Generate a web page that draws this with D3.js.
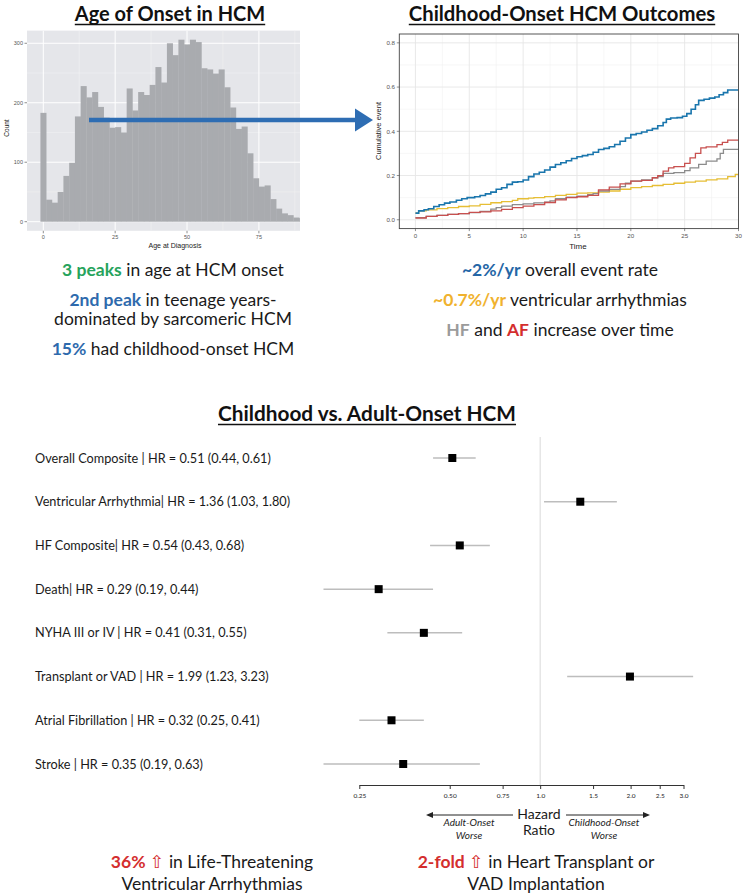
<!DOCTYPE html>
<html><head><meta charset="utf-8">
<script src="https://cdn.jsdelivr.net/npm/d3@7"></script>
<style>body{margin:0;background:#fff} svg{display:block}</style>
</head><body>
<svg id="c" width="748" height="895"></svg>
<script>
// ---------- DATA ----------
const ageBins = [0,2,4,6,8,10,12,14,16,18,20,22,24,26,28,30,32,34,36,38,40,42,44,46,48,50,52,54,56,58,60,62,64,66,68,70,72,74,76,78,80,82,84,86,88,90];
const ageCounts = [183,37,32,50,77,99,177,228,209,218,193,175,158,159,150,224,187,218,213,230,260,234,300,280,306,298,306,302,258,256,249,256,226,192,156,160,115,73,59,61,38,22,14,11,7,6];
const histYTicks = [0,100,200,300];
const histXTicks = [0,25,50,75];

const kmXTicks = [0,5,10,15,20,25,30];
const kmYTicks = [0,0.2,0.4,0.6,0.8];
const overallT = [0,0.3,0.8,1.2,1.7,2.2,2.7,3.2,3.8,4.3,4.8,5.5,6,6.5,7,7.5,8,8.5,9,9.5,10,10.5,11,11.5,12,12.5,13,13.5,14,14.5,15,15.5,16,16.5,17,17.5,18,18.5,19,19.5,20,20.5,21,21.5,22,22.5,23,23.3,23.7,24.3,24.8,25.2,25.6,26,26.3,26.8,27.3,27.8,28.2,28.6,29,30];
const overallV = [0.03,0.04,0.045,0.05,0.06,0.068,0.075,0.08,0.088,0.095,0.1,0.104,0.11,0.117,0.125,0.138,0.145,0.16,0.17,0.172,0.18,0.195,0.207,0.215,0.225,0.238,0.25,0.258,0.267,0.277,0.285,0.29,0.295,0.305,0.318,0.323,0.33,0.34,0.355,0.37,0.385,0.39,0.397,0.405,0.412,0.425,0.44,0.455,0.46,0.462,0.468,0.48,0.5,0.52,0.54,0.545,0.55,0.555,0.565,0.575,0.587,0.587];
const vaT = [0,0.3,1,2,3,4,5,6,7,8,9,9.5,10.5,11,12,13,14,15,16,17,18,19,20,21,22,23,24,25,26,27,28,29,29.7,30];
const vaV = [0.03,0.04,0.045,0.05,0.055,0.06,0.063,0.07,0.077,0.082,0.088,0.095,0.098,0.1,0.105,0.11,0.115,0.12,0.122,0.125,0.13,0.138,0.145,0.15,0.155,0.16,0.165,0.17,0.175,0.18,0.185,0.195,0.205,0.205];
const hfT = [0,1,2,3,4,5,6,7,7.5,8,9,10,11,12,12.5,13,14,15,16,16.5,17,18,19,19.5,20,21,22,22.5,23,24,25,25.5,26.3,27,28,28.3,28.6,30];
const hfV = [0.01,0.015,0.02,0.024,0.028,0.032,0.038,0.048,0.055,0.062,0.068,0.072,0.076,0.08,0.085,0.095,0.102,0.107,0.113,0.118,0.13,0.137,0.15,0.165,0.175,0.18,0.19,0.195,0.21,0.213,0.222,0.235,0.25,0.265,0.275,0.3,0.318,0.318];
const afT = [0,1,2,3,4,5,6,7,8,9,10,11,12,13,14,15,16,17,18,19,20,21,22,22.5,23,23.5,24,25,25.5,26,26.5,27,28,28.5,29,30];
const afV = [0.008,0.015,0.02,0.024,0.028,0.033,0.036,0.04,0.047,0.055,0.062,0.068,0.078,0.09,0.1,0.104,0.11,0.135,0.148,0.162,0.175,0.178,0.19,0.2,0.22,0.235,0.24,0.255,0.28,0.3,0.325,0.33,0.34,0.35,0.36,0.36];

const outcomes = ["Overall Composite | HR = 0.51 (0.44, 0.61)","Ventricular Arrhythmia| HR = 1.36 (1.03, 1.80)","HF Composite| HR = 0.54 (0.43, 0.68)","Death| HR = 0.29 (0.19, 0.44)","NYHA III or IV | HR = 0.41 (0.31, 0.55)","Transplant or VAD | HR = 1.99 (1.23, 3.23)","Atrial Fibrillation | HR = 0.32 (0.25, 0.41)","Stroke | HR = 0.35 (0.19, 0.63)"];
const hr = [0.51,1.36,0.54,0.29,0.41,1.99,0.32,0.35];
const hrLo = [0.44,1.03,0.43,0.19,0.31,1.23,0.25,0.19];
const hrHi = [0.61,1.80,0.68,0.44,0.55,3.23,0.41,0.63];
const hrTicks = [0.25,0.5,0.75,1,1.5,2,2.5,3];
const hrTickLabels = ["0.25","0.50","0.75","1.0","1.5","2.0","2.5","3.0"];

// ---------- DRAW ----------
const svg = d3.select('#c');
const FONT = 'Lato, "Open Sans", sans-serif';
const AX = '"Liberation Sans", Arial, sans-serif';
const TXT = '#1a1a1a';

function title(x, y, txt, size){
  const t = svg.append('text').attr('x',x).attr('y',y).attr('text-anchor','middle')
    .attr('font-family',FONT).attr('font-weight',700).attr('font-size',size||20).attr('fill','#111').text(txt);
  const w = t.node().getComputedTextLength();
  svg.append('line').attr('x1',x-w/2).attr('x2',x+w/2).attr('y1',y+3.5).attr('y2',y+3.5)
    .attr('stroke','#111').attr('stroke-width',1.6);
}
title(170, 21, 'Age of Onset in HCM');
title(562, 21, 'Childhood-Onset HCM Outcomes', 20.3);
title(367, 421, 'Childhood vs. Adult-Onset HCM', 20.8);

// ----- Histogram -----
const hx = d3.scaleLinear().domain([-5.67, 89.3]).range([27, 300]);
const hy = d3.scaleLinear().domain([-15.3, 321.3]).range([230.8, 30.6]);
const hg = svg.append('g');
hg.append('clipPath').attr('id','hclip').append('rect').attr('x',27).attr('y',30.6).attr('width',273).attr('height',200.2);
hg.append('rect').attr('x',27).attr('y',30.6).attr('width',273).attr('height',200.2).attr('fill','#e5e6ea');
const hgc = hg.append('g').attr('clip-path','url(#hclip)');
[50,150,250].forEach(v=>hgc.append('line').attr('x1',27).attr('x2',300).attr('y1',hy(v)).attr('y2',hy(v)).attr('stroke','#f3f3f5').attr('stroke-width',0.5));
[12.5,37.5,62.5,87.5].forEach(v=>hgc.append('line').attr('x1',hx(v)).attr('x2',hx(v)).attr('y1',30.6).attr('y2',230.8).attr('stroke','#f3f3f5').attr('stroke-width',0.5));
histYTicks.forEach(v=>hgc.append('line').attr('x1',27).attr('x2',300).attr('y1',hy(v)).attr('y2',hy(v)).attr('stroke','#fff').attr('stroke-width',1));
histXTicks.forEach(v=>hgc.append('line').attr('x1',hx(v)).attr('x2',hx(v)).attr('y1',30.6).attr('y2',230.8).attr('stroke','#fff').attr('stroke-width',1));
hgc.selectAll('rect.bar').data(ageBins).enter().append('rect').attr('class','bar')
  .attr('x',d=>hx(d-1)).attr('width',d=>hx(d+1)-hx(d-1)+0.3)
  .attr('y',(d,i)=>hy(ageCounts[i])).attr('height',(d,i)=>hy(0)-hy(ageCounts[i]))
  .attr('fill','#a9abaf');
histYTicks.forEach(v=>{
  hg.append('line').attr('x1',24.5).attr('x2',27).attr('y1',hy(v)).attr('y2',hy(v)).attr('stroke','#444').attr('stroke-width',0.6);
  hg.append('text').attr('x',23).attr('y',hy(v)+2).attr('text-anchor','end').attr('font-family',AX).attr('font-size',5.5).attr('fill','#555').text(v);
});
histXTicks.forEach(v=>{
  hg.append('line').attr('x1',hx(v)).attr('x2',hx(v)).attr('y1',230.8).attr('y2',233.3).attr('stroke','#444').attr('stroke-width',0.6);
  hg.append('text').attr('x',hx(v)).attr('y',239).attr('text-anchor','middle').attr('font-family',AX).attr('font-size',5.5).attr('fill','#555').text(v);
});
hg.append('text').attr('transform','translate(9,128) rotate(-90)').attr('text-anchor','middle').attr('font-family',AX).attr('font-size',6.5).attr('fill','#222').text('Count');
hg.append('text').attr('x',175).attr('y',248).attr('text-anchor','middle').attr('font-family',AX).attr('font-size',7).attr('fill','#222').text('Age at Diagnosis');

// ----- KM chart -----
const kx = d3.scaleLinear().domain([-1.5, 30]).range([399.3, 738.5]);
const ky = d3.scaleLinear().domain([-0.04, 0.84]).range([228.6, 34]);
const kg = svg.append('g');
kg.append('rect').attr('x',399.3).attr('y',34).attr('width',739.2-399.3).attr('height',228.6-34).attr('fill','#fff');
[2.5,7.5,12.5,17.5,22.5,27.5].forEach(v=>kg.append('line').attr('x1',kx(v)).attr('x2',kx(v)).attr('y1',34).attr('y2',228.6).attr('stroke','#f1f1f1').attr('stroke-width',0.6));
[0.1,0.3,0.5,0.7].forEach(v=>kg.append('line').attr('x1',399.3).attr('x2',738.5).attr('y1',ky(v)).attr('y2',ky(v)).attr('stroke','#f1f1f1').attr('stroke-width',0.6));
kmXTicks.forEach(v=>kg.append('line').attr('x1',kx(v)).attr('x2',kx(v)).attr('y1',34).attr('y2',228.6).attr('stroke','#e6e6e6').attr('stroke-width',0.9));
kmYTicks.forEach(v=>kg.append('line').attr('x1',399.3).attr('x2',738.5).attr('y1',ky(v)).attr('y2',ky(v)).attr('stroke','#e6e6e6').attr('stroke-width',0.9));
const kline = d3.line().x(d=>kx(d[0])).y(d=>ky(d[1])).curve(d3.curveStepAfter);
const series = [
  {t:vaT, v:vaV, c:'#e6be35', w:1.3},
  {t:hfT, v:hfV, c:'#8c8c8c', w:1.3},
  {t:afT, v:afV, c:'#c8504f', w:1.3},
  {t:overallT, v:overallV, c:'#1a76ad', w:1.6}
];
series.forEach(s=>{
  kg.append('path').attr('d',kline(s.t.map((t,i)=>[t,s.v[i]]))).attr('fill','none').attr('stroke',s.c).attr('stroke-width',s.w);
});
kg.append('rect').attr('x',399.3).attr('y',34).attr('width',738.5-399.3).attr('height',228.6-34).attr('fill','none').attr('stroke','#444').attr('stroke-width',0.9);
kmYTicks.forEach(v=>{
  kg.append('line').attr('x1',396.8).attr('x2',399.3).attr('y1',ky(v)).attr('y2',ky(v)).attr('stroke','#444').attr('stroke-width',0.6);
  kg.append('text').attr('x',395).attr('y',ky(v)+2.2).attr('text-anchor','end').attr('font-family',AX).attr('font-size',6.2).attr('fill','#555').text(d3.format('.1f')(v));
});
kmXTicks.forEach(v=>{
  kg.append('line').attr('x1',kx(v)).attr('x2',kx(v)).attr('y1',228.6).attr('y2',231.1).attr('stroke','#444').attr('stroke-width',0.6);
  kg.append('text').attr('x',kx(v)).attr('y',238).attr('text-anchor','middle').attr('font-family',AX).attr('font-size',6.2).attr('fill','#555').text(v);
});
kg.append('text').attr('transform','translate(381,131) rotate(-90)').attr('text-anchor','middle').attr('font-family',AX).attr('font-size',7.5).attr('fill','#222').text('Cumulative event');
kg.append('text').attr('x',578).attr('y',249).attr('text-anchor','middle').attr('font-family',AX).attr('font-size',8).attr('fill','#222').text('Time');

// ----- Blue arrow -----
svg.append('line').attr('x1',89).attr('x2',357).attr('y1',120).attr('y2',120).attr('stroke','#2e6db3').attr('stroke-width',4.5);
svg.append('path').attr('d','M355,108.5 L373,120 L355,131.5 Z').attr('fill','#2e6db3');

// ----- Summary texts -----
function rich(x, y, parts, size){
  const t = svg.append('text').attr('x',x).attr('y',y).attr('text-anchor','middle')
    .attr('font-family',FONT).attr('font-size',size||17.5).attr('fill',TXT);
  parts.forEach(p=>{
    const s = t.append('tspan').text(p[0]);
    if(p[1]) s.attr('fill',p[1]);
    if(p[2]) s.attr('font-weight',700);
    if(p[3]) s.attr('font-family',p[3]);
  });
}
const GREEN='#26a35c', BLUE='#2e6aad', YEL='#f0b22e', GRAY='#9b9b9b', RED='#d42e2e';
rich(173, 276, [['3 peaks',GREEN,1],[' in age at HCM onset']]);
rich(173, 306, [['2nd peak',BLUE,1],[' in teenage years-']]);
rich(173, 325, [['dominated by sarcomeric HCM']]);
rich(173, 355, [['15%',BLUE,1],[' had childhood-onset HCM']]);
rich(560, 276, [['~2%/yr','#2466a6',1],[' overall event rate']]);
rich(560, 306, [['~0.7%/yr',YEL,1],[' ventricular arrhythmias']]);
rich(560, 336, [['HF',GRAY,1],[' and '],['AF',RED,1],[' increase over time']]);
rich(212, 868, [['36% ',RED,1],['\u21E7',RED,0,'"DejaVu Sans"'],[' in Life-Threatening']]);
rich(212, 890, [['Ventricular Arrhythmias']]);
rich(536, 868, [['2-fold ',RED,1],['\u21E7',RED,0,'"DejaVu Sans"'],[' in Heart Transplant or']]);
rich(536, 890, [['VAD Implantation']]);

// ----- Forest plot -----
const fx = d3.scaleLog().domain([0.25, 3]).range([359.3, 683.5]);
const fy = d3.scalePoint().domain(outcomes).range([458, 764]);
const fg = svg.append('g');
fg.append('line').attr('x1',fx(1)).attr('x2',fx(1)).attr('y1',437).attr('y2',785).attr('stroke','#d9d9d9').attr('stroke-width',1);
outcomes.forEach((o,i)=>{
  const y = fy(o);
  fg.append('text').attr('x',35).attr('y',y+4.5).attr('font-family',FONT).attr('font-size',12.7).attr('fill',TXT).text(o);
  fg.append('line').attr('x1',fx(hrLo[i])).attr('x2',fx(hrHi[i])).attr('y1',y).attr('y2',y).attr('stroke','#bdbdbd').attr('stroke-width',1.5);
  fg.append('rect').attr('x',fx(hr[i])-4).attr('y',y-4).attr('width',8).attr('height',8).attr('fill','#000');
});
const fax = fg.append('g').attr('transform','translate(0,785)')
  .call(d3.axisBottom(fx).tickValues(hrTicks).tickFormat((d,i)=>hrTickLabels[i]).tickSize(4).tickSizeOuter(0));
fax.select('.domain').attr('stroke','#333');
fax.selectAll('.tick line').attr('stroke','#333');
fax.selectAll('.tick text').attr('font-family',FONT).attr('font-size',6.5).attr('fill','#222').attr('dy','0.9em');
fg.append('text').attr('x',539).attr('y',819).attr('text-anchor','middle').attr('font-family',FONT).attr('font-size',14).attr('fill',TXT).text('Hazard');
fg.append('text').attr('x',539).attr('y',835).attr('text-anchor','middle').attr('font-family',FONT).attr('font-size',14).attr('fill',TXT).text('Ratio');
fg.append('line').attr('x1',513).attr('x2',431).attr('y1',815).attr('y2',815).attr('stroke','#222').attr('stroke-width',1);
fg.append('path').attr('d','M426,815 L433,812 L433,818 Z').attr('fill','#222');
fg.append('line').attr('x1',566).attr('x2',644).attr('y1',815).attr('y2',815).attr('stroke','#222').attr('stroke-width',1);
fg.append('path').attr('d','M650,815 L643,812 L643,818 Z').attr('fill','#222');
[['Adult-Onset',469,826],['Worse',469,839],['Childhood-Onset',604,826],['Worse',604,839]].forEach(a=>{
  fg.append('text').attr('x',a[1]).attr('y',a[2]).attr('text-anchor','middle').attr('font-family',FONT).attr('font-style','italic').attr('font-size',10).attr('fill',TXT).text(a[0]);
});
</script>
</body></html>
